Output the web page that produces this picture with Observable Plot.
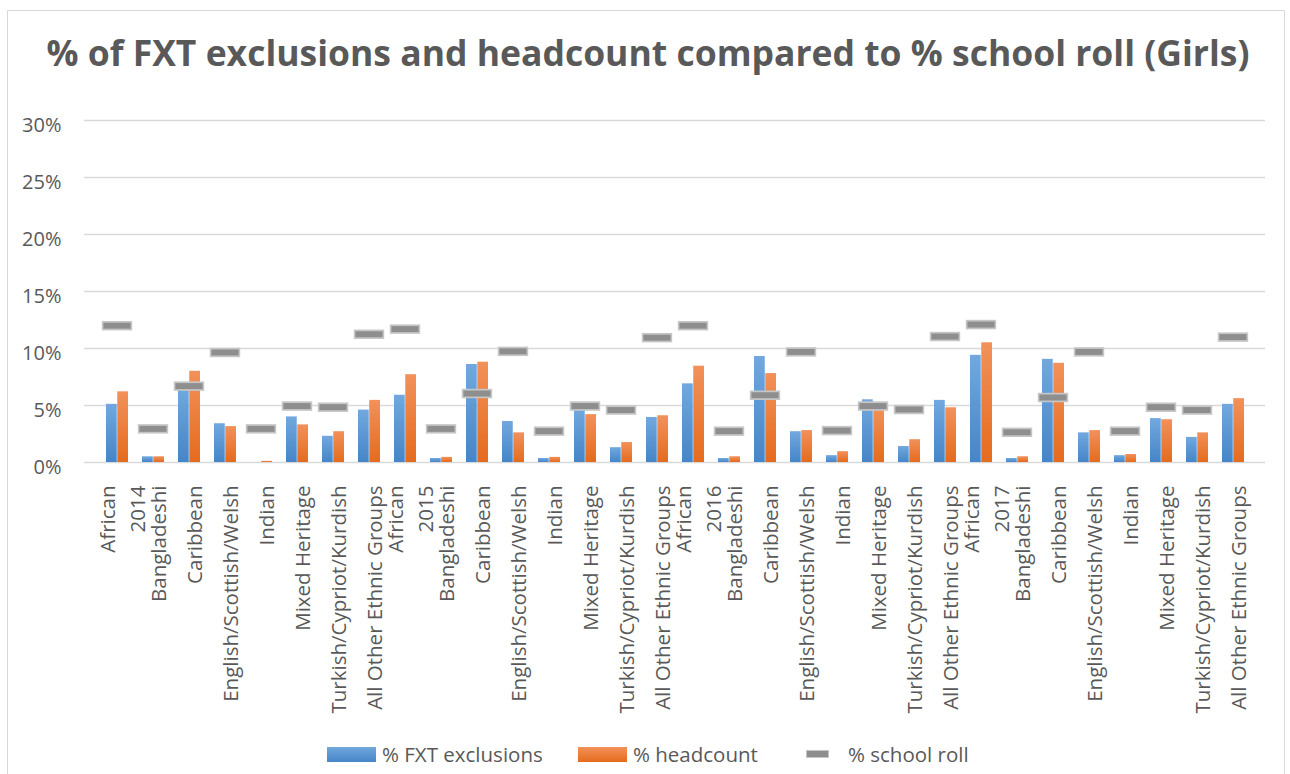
<!DOCTYPE html>
<html>
<head>
<meta charset="utf-8">
<script src="https://cdn.jsdelivr.net/npm/d3@7"></script>
<script src="https://cdn.jsdelivr.net/npm/@observablehq/plot@0.6"></script>
<style>
  html, body { margin: 0; padding: 0; background: #fff; }
  body { width: 1290px; height: 774px; overflow: hidden; position: relative; font-family: "Open Sans", sans-serif; }
  #frame { position: absolute; left: 7px; top: 10px; width: 1278px; height: 800px; border: 1.5px solid #d9d9d9; box-sizing: border-box; }
  #title { position: absolute; left: 0; top: 0; width: 1296px; text-align: center; font-weight: 700; font-size: 35.5px; color: #595959; padding-top: 28px; line-height: 48px; white-space: nowrap; }
  #chart { position: absolute; left: 0; top: 100px; }
  #legend { position: absolute; left: 0; top: 739px; width: 1290px; height: 30px; font-size: 20.5px; color: #595959; }
  .item { position: absolute; top: 0; display: flex; align-items: center; height: 30px; white-space: nowrap; }
  .sw { display: inline-block; margin-right: 6px; }
</style>
</head>
<body>
<div id="frame"></div>
<div id="title">% of FXT exclusions and headcount compared to % school roll (Girls)</div>
<div id="chart"></div>
<div id="legend"></div>
<script>
// Girls: exclusions, headcount and school roll share by ethnic group, 2014–2017 (values in %)
const years = ["2014", "2015", "2016", "2017"];
const groups = ["African", "Bangladeshi", "Caribbean", "English/Scottish/Welsh", "Indian",
  "Mixed Heritage", "Turkish/Cypriot/Kurdish", "All Other Ethnic Groups"];

const fxtExclusions = [
  5.1, 0.5, 6.6, 3.4, 0.0, 4.0, 2.3, 4.6,
  5.9, 0.35, 8.6, 3.6, 0.35, 4.7, 1.3, 3.95,
  6.9, 0.35, 9.3, 2.7, 0.6, 5.5, 1.4, 5.45,
  9.4, 0.35, 9.05, 2.6, 0.6, 3.85, 2.2, 5.1
];
const headcount = [
  6.2, 0.5, 8.0, 3.15, 0.1, 3.3, 2.7, 5.45,
  7.7, 0.45, 8.8, 2.6, 0.45, 4.2, 1.75, 4.1,
  8.45, 0.5, 7.8, 2.8, 0.95, 4.8, 2.0, 4.8,
  10.5, 0.5, 8.7, 2.8, 0.7, 3.75, 2.6, 5.6
];
const schoolRoll = [
  12.0, 2.95, 6.7, 9.65, 2.95, 4.95, 4.85, 11.25,
  11.7, 2.95, 6.05, 9.75, 2.75, 4.95, 4.6, 10.95,
  12.0, 2.75, 5.9, 9.7, 2.8, 4.95, 4.65, 11.05,
  12.1, 2.65, 5.7, 9.7, 2.75, 4.85, 4.6, 11.0
];
const yTicks = [0, 5, 10, 15, 20, 25, 30];

const legendItems = [
  {label: "% FXT exclusions", kind: "blue"},
  {label: "% headcount", kind: "orange"},
  {label: "% school roll", kind: "dash"}
];

// One row per year/group category
const rows = years.flatMap((year, i) => groups.map((group, j) => {
  const k = i * groups.length + j;
  return {key: `${year}|${group}`, year, group, first: j === 0,
    fxt: fxtExclusions[k], head: headcount[k], roll: schoolRoll[k]};
}));
const labelOf = new Map(rows.map(r => [r.key, r.first ? `${r.group}\n${r.year}` : r.group]));

const textColor = "#595959";
const gridColor = "#d9d9d9";

const plot = Plot.plot({
  width: 1290,
  height: 620,
  marginTop: 20,
  marginBottom: 258,
  marginLeft: 84,
  marginRight: 25,
  style: {fontFamily: "'Open Sans', sans-serif", overflow: "visible", background: "transparent"},
  x: {domain: rows.map(r => r.key), paddingInner: 0.39, paddingOuter: 0.195, axis: null},
  y: {domain: [0, 30], axis: null},
  marks: [
    Plot.ruleY(yTicks, {stroke: gridColor, strokeWidth: 1.6}),
    // value axis labels
    Plot.text(yTicks, {y: d => d, frameAnchor: "left", text: d => d + "%", textAnchor: "end",
      dx: -23, dy: 5, fontSize: 20, fill: textColor}),
    // category labels, rotated; the first group of each year also carries the year
    Plot.text(rows, {x: "key", frameAnchor: "bottom", text: d => labelOf.get(d.key), rotate: -90,
      textAnchor: "end", lineAnchor: "middle", lineHeight: 1.43, dy: 23, dx: 3,
      fontSize: 20.5, fill: textColor}),
    Plot.barY(rows, {x: "key", y: "fxt", fill: "url(#gradBlue)", insetRight: 11.25}),
    Plot.barY(rows, {x: "key", y: "head", fill: "url(#gradOrange)", insetLeft: 11.25}),
    Plot.tickY(rows, {x: "key", y: "roll", stroke: "#c6c6c6", strokeWidth: 9.5,
      insetLeft: -4.2, insetRight: -4.2}),
    Plot.tickY(rows, {x: "key", y: "roll", stroke: "#8e8e8e", strokeWidth: 6,
      insetLeft: -2.6, insetRight: -2.6})
  ]
});

// Vertical gradients for the bar fills
const defs = d3.select(plot).insert("defs", ":first-child");
function grad(id, top, bottom) {
  const g = defs.append("linearGradient").attr("id", id)
    .attr("x1", 0).attr("y1", 0).attr("x2", 0).attr("y2", 1);
  g.append("stop").attr("offset", "0%").attr("stop-color", top);
  g.append("stop").attr("offset", "100%").attr("stop-color", bottom);
}
grad("gradBlue", "#72a8de", "#4585c8");
grad("gradOrange", "#f2915a", "#e56b1d");

document.getElementById("chart").appendChild(plot);

// Legend
const legend = d3.select("#legend");
const legendX = [327, 578, 807];
legendItems.forEach((it, i) => {
  const item = legend.append("div").attr("class", "item").style("left", legendX[i] + "px");
  const sw = item.append("span").attr("class", "sw");
  if (it.kind === "blue") {
    sw.style("width", "49px").style("height", "15px")
      .style("background", "linear-gradient(#72a8de, #4585c8)");
  } else if (it.kind === "orange") {
    sw.style("width", "49px").style("height", "15px")
      .style("background", "linear-gradient(#f2915a, #e56b1d)");
  } else {
    sw.style("width", "21px").style("height", "6px").style("background", "#8e8e8e")
      .style("box-shadow", "0 0 0 1px #c6c6c6").style("margin-right", "20px");
  }
  item.append("span").text(it.label);
});
</script>
</body>
</html>
